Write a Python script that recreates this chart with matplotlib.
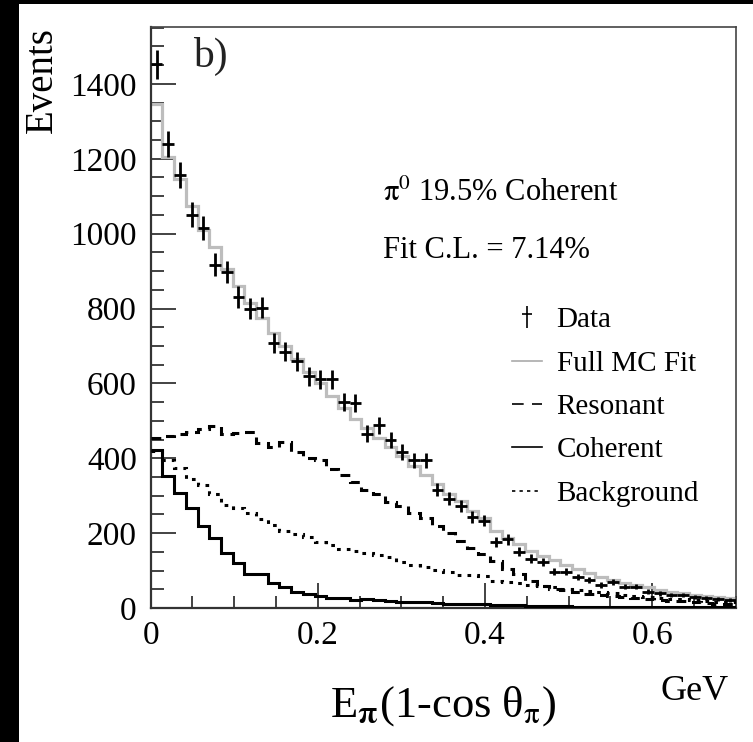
import numpy as np
import matplotlib
matplotlib.use('Agg')
import matplotlib.pyplot as plt
from matplotlib.lines import Line2D
from matplotlib.path import Path
from matplotlib.patches import Rectangle
from matplotlib.ticker import MultipleLocator

plt.rcParams['font.family'] = ['Liberation Serif', 'DejaVu Serif']
plt.rcParams['mathtext.fontset'] = 'stix'

# --- histogram binning: 50 bins from 0 to 0.7 GeV ---
bin_edges = np.linspace(0.0, 0.7, 51)

# --- values (events per bin) ---
data_counts = [1452, 1239, 1157, 1051, 1015, 917, 897, 830, 799, 802,
               708, 685, 659, 619, 611, 611, 550, 548, 466, 488,
               448, 417, 395, 395, 316, 292, 272, 244, 233, 177,
               183, 150, 132, 123, 97, 97, 83, 75, 61, 70,
               57, 57, 43, 39, 35, 35, 30, 26, 25, 22]

full_mc = [1345, 1205, 1145, 1075, 1010, 965, 905, 860, 815, 775,
           735, 700, 665, 630, 600, 565, 535, 505, 480, 455,
           430, 405, 380, 355, 330, 305, 285, 260, 240, 205,
           188, 170, 152, 140, 128, 115, 103, 93, 84, 76,
           68, 61, 55, 49, 44, 40, 36, 32, 29, 27]

resonant = [455, 460, 465, 470, 478, 486, 464, 468, 470, 442,
            430, 444, 417, 402, 395, 370, 355, 337, 315, 304,
            282, 272, 253, 240, 220, 201, 180, 160, 145, 125,
            105, 92, 72, 58, 52, 48, 44, 38, 35, 32,
            29, 26, 24, 22, 20, 18, 16, 14, 12, 10]

coherent = [423, 352, 306, 266, 219, 188, 147, 119, 92, 92,
            67, 57, 43, 37, 32, 28, 26, 21, 23, 22,
            19, 16, 15, 15, 13, 12, 12, 11, 10, 9,
            8, 7, 6, 6, 5, 5, 4, 4, 4, 3,
            3, 3, 3, 2, 2, 2, 2, 2, 2, 2]

background = [420, 395, 373, 345, 328, 305, 275, 268, 255, 238,
              222, 205, 197, 190, 177, 168, 157, 152, 146, 141,
              137, 122, 115, 110, 101, 95, 88, 88, 85, 72,
              70, 68, 61, 58, 55, 52, 49, 46, 43, 40,
              35, 32, 30, 28, 25, 23, 21, 19, 17, 15]

legend_labels = ['Data', 'Full MC Fit', 'Resonant', 'Coherent', 'Background']

W, H = 753, 742
fig = plt.figure(figsize=(W / 100, H / 100), dpi=100)
fig.patch.set_facecolor('white')

# black scan borders (left and top)
fig.patches.append(Rectangle((0, 0), 19 / W, 1, transform=fig.transFigure,
                             facecolor='black', edgecolor='none', zorder=-1))
fig.patches.append(Rectangle((0, 1 - 4 / H), 1, 4 / H, transform=fig.transFigure,
                             facecolor='black', edgecolor='none', zorder=-1))

ax = fig.add_axes([150.7 / W, 1 - 608 / H, 585 / W, 581 / H])

centers = 0.5 * (bin_edges[:-1] + bin_edges[1:])
half_w = 0.5 * np.diff(bin_edges)
data_arr = np.array(data_counts, dtype=float)

ax.stairs(full_mc, bin_edges, baseline=None, color='#bdbdbd', lw=2.3, zorder=2)
ax.stairs(resonant, bin_edges, baseline=None, color='black', lw=2.2,
          linestyle=(0, (3.2, 2.2)), zorder=3)
ax.stairs(coherent, bin_edges, baseline=None, color='black', lw=2.2, zorder=3)
ax.stairs(background, bin_edges, baseline=None, color='black', lw=2.2,
          linestyle=(0, (1.2, 2.0)), zorder=3)
ax.errorbar(centers, data_arr, xerr=half_w, yerr=np.sqrt(data_arr), fmt='none',
            ecolor='black', elinewidth=2.0, capsize=0, zorder=4)

ax.set_xlim(0, 0.7)
ax.set_ylim(0, 1552)
ax.xaxis.set_major_locator(MultipleLocator(0.2))
ax.xaxis.set_minor_locator(MultipleLocator(0.05))
ax.yaxis.set_major_locator(MultipleLocator(200))
ax.yaxis.set_minor_locator(MultipleLocator(50))
ax.xaxis.set_major_formatter(matplotlib.ticker.FuncFormatter(
    lambda v, p: '0' if abs(v) < 1e-9 else f'{v:.1f}'))

ax.tick_params(which='both', direction='in', top=False, right=False,
               colors='#222222', width=1.2, labelsize=24, labelcolor='black')
ax.tick_params(which='major', length=18)
ax.tick_params(which='minor', length=9)
ax.tick_params(axis='x', pad=9)
ax.tick_params(axis='y', pad=10)
for side in ['left', 'bottom']:
    ax.spines[side].set_linewidth(1.6)
    ax.spines[side].set_color('#333333')
for side in ['top', 'right']:
    ax.spines[side].set_linewidth(1.2)
    ax.spines[side].set_color('#444444')

# legend with thin proxy handles
dagger = Path([(0, -1), (0, 1), (-0.45, 0.25), (0.45, 0.25)],
              [Path.MOVETO, Path.LINETO, Path.MOVETO, Path.LINETO])
handles = [
    Line2D([], [], linestyle='none', marker=dagger, markersize=16,
           markeredgewidth=1.2, color='black'),
    Line2D([], [], color='#aaaaaa', lw=1.2),
    Line2D([], [], color='black', lw=1.2, linestyle=(0, (7, 5))),
    Line2D([], [], color='black', lw=1.2),
    Line2D([], [], color='black', lw=1.2, linestyle=(0, (2, 2.5))),
]
fig.legend(handles, legend_labels, loc='upper left',
           bbox_to_anchor=(512 / W, 1 - 307 / H), bbox_transform=fig.transFigure,
           frameon=False, fontsize=21, borderpad=0, borderaxespad=0,
           handlelength=1.03, handletextpad=0.5, labelspacing=0.58)

fig.text(193 / W, 1 - 67 / H, 'b)', fontsize=30, color='#222222', va='baseline')
fig.text(383 / W, 1 - 201 / H, r'$\mathrm{\pi}^0$ 19.5% Coherent', fontsize=22,
         va='baseline')
fig.text(383 / W, 1 - 258 / H, 'Fit C.L. = 7.14%', fontsize=22, va='baseline')
fig.text(51.7 / W, 1 - 80.5 / H, 'Events', fontsize=28, rotation=90,
         rotation_mode='anchor', ha='center', va='baseline')
fig.text(443 / W, 1 - 717 / H, r'E$_\mathbf{\pi}$(1-cos θ$_\mathrm{\pi}$)', fontsize=32,
         ha='center', va='baseline')
fig.text(660 / W, 1 - 700 / H, 'GeV', fontsize=26, va='baseline')

fig.savefig('out.png', dpi=100, facecolor=fig.get_facecolor())
